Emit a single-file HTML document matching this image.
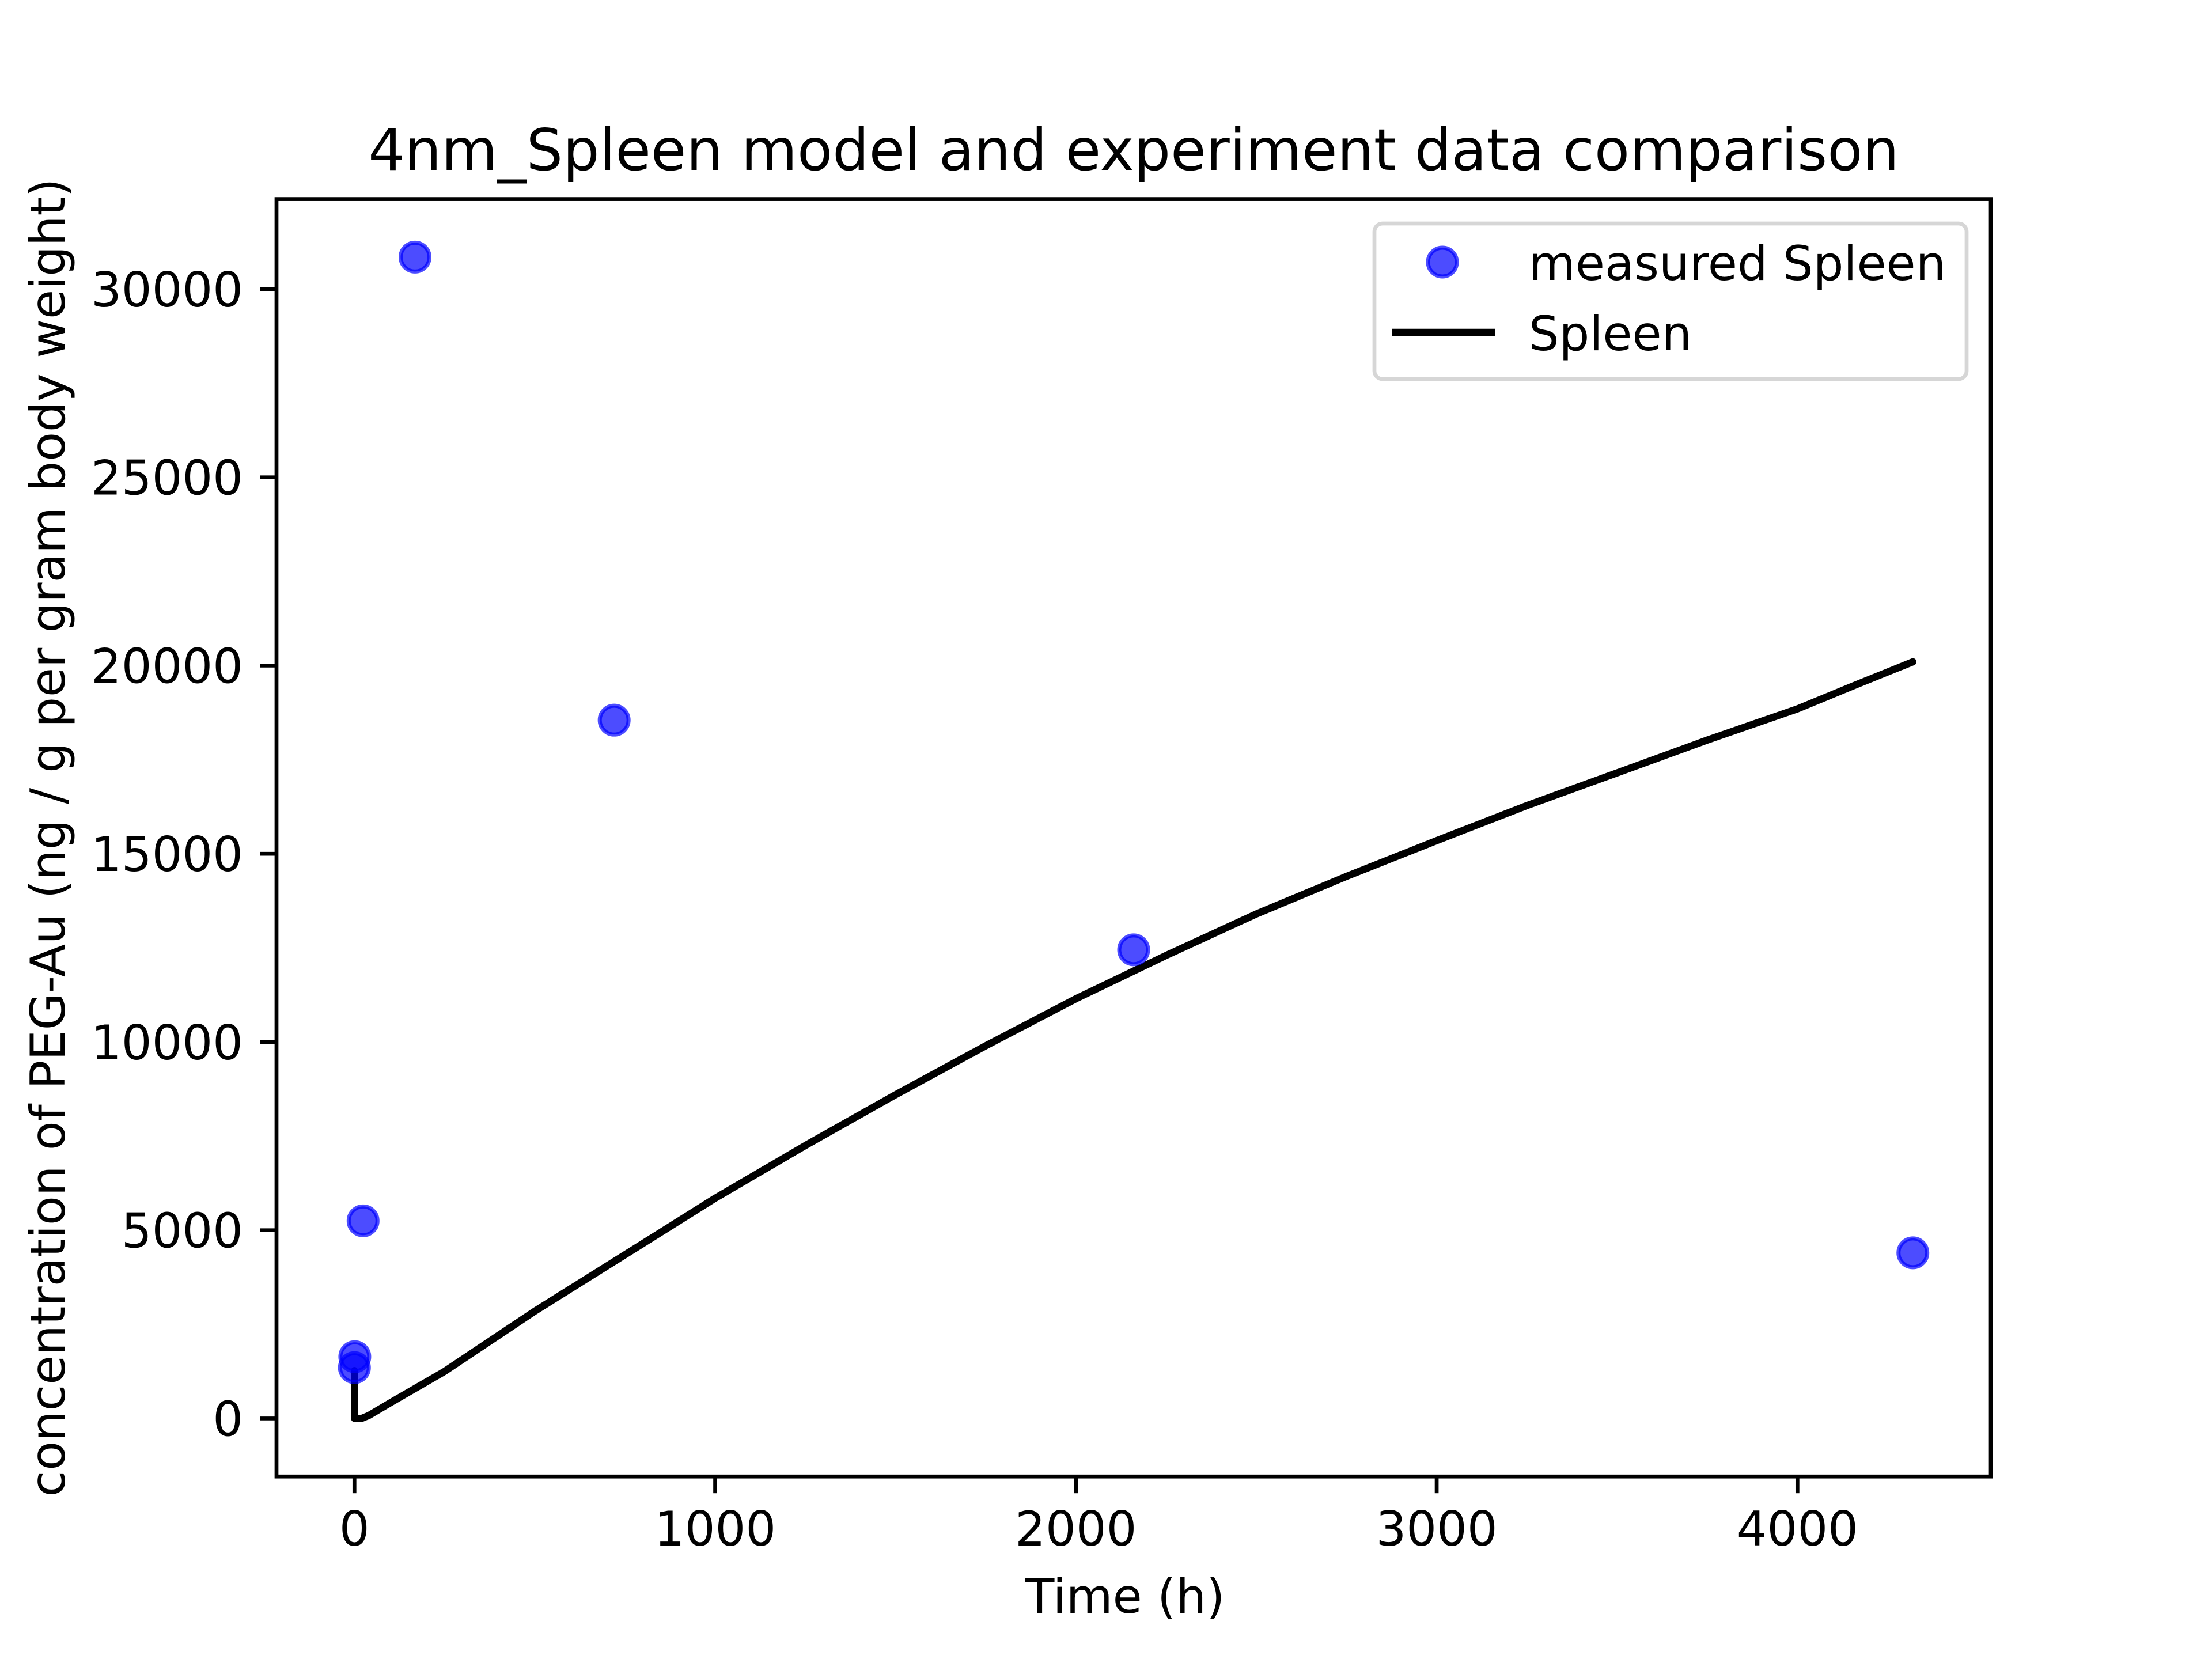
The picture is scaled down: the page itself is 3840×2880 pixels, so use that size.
<!DOCTYPE html>
<html><head><meta charset="utf-8"><style>
html,body{margin:0;padding:0;background:#fff}
svg{display:block;font-family:"DejaVu Sans","Liberation Sans",sans-serif}
</style></head><body>
<svg id="chart" width="3840" height="2880" viewBox="0 0 3840 2880" xmlns="http://www.w3.org/2000/svg">
<rect width="3840" height="2880" fill="#fff"/>
<g id="plot"></g>
<text x="1968" y="295" font-size="100" text-anchor="middle">4nm_Spleen model and experiment data comparison</text>
<text x="1953" y="2800" font-size="83" text-anchor="middle">Time (h)</text>
<text transform="translate(112,1454) rotate(-90)" font-size="83" text-anchor="middle">concentration of PEG-Au (ng / g per gram body weight)</text>
<g>
<rect x="2386" y="388" width="1028" height="270" rx="14" fill="#fff" fill-opacity="0.8" stroke="#d6d6d6" stroke-width="6.7"/>
<circle cx="2504" cy="455" r="25" fill="#0000ff" fill-opacity="0.7" stroke="#0000ff" stroke-opacity="0.7" stroke-width="7"/>
<text x="2654" y="486" font-size="83">measured Spleen</text>
<line x1="2416" y1="577" x2="2596" y2="577" stroke="#000" stroke-width="12.5"/>
<text x="2654" y="608" font-size="83">Spleen</text>
</g>
</svg>
<script>
const measuredTimes = [0, 1, 24, 168, 720, 2160, 4320];
const measuredValues = [1350, 1640, 5250, 30850, 18550, 12450, 4400];
const modelTimes = [0, 0.5, 20, 40, 100, 250, 500, 750, 1000, 1250, 1500, 1750, 2000, 2250, 2500, 2750, 3000, 3250, 3500, 3750, 4000, 4160, 4320];
const modelValues = [1270, 0, 0, 80, 420, 1250, 2850, 4350, 5850, 7250, 8600, 9900, 11150, 12300, 13400, 14400, 15350, 16280, 17150, 18020, 18850, 19480, 20100];
const xTicks = [0, 1000, 2000, 3000, 4000];
const yTicks = [0, 5000, 10000, 15000, 20000, 25000, 30000];

const NS = "http://www.w3.org/2000/svg";
const L = 480, R = 3456, T = 345.6, B = 2563.2;
const xMin = -216, xMax = 4536, yMin = -1542, yMax = 32392;
const sx = v => L + (v - xMin) / (xMax - xMin) * (R - L);
const sy = v => B - (v - yMin) / (yMax - yMin) * (B - T);
const g = document.getElementById('plot');
function mk(tag, attrs) { const e = document.createElementNS(NS, tag); for (const k in attrs) e.setAttribute(k, attrs[k]); g.appendChild(e); return e; }

const d = modelTimes.map((t, i) => (i ? 'L' : 'M') + sx(t).toFixed(1) + ',' + sy(modelValues[i]).toFixed(1)).join(' ');
const line = mk('path', { d: d, fill: 'none', stroke: '#000', 'stroke-width': 12.5, 'stroke-linejoin': 'round', 'stroke-linecap': 'round' });



measuredTimes.forEach((t, i) => {
  const c = mk('circle', { cx: sx(t), cy: sy(measuredValues[i]), r: 25, fill: '#0000ff', 'fill-opacity': 0.7, stroke: '#0000ff', 'stroke-opacity': 0.7, 'stroke-width': 7 });
  
  
});

const frame = mk('rect', { x: L, y: T, width: R - L, height: B - T, fill: 'none', stroke: '#000', 'stroke-width': 6.7 });



xTicks.forEach(v => {
  const x = sx(v);
  const tk = mk('line', { x1: x, y1: B, x2: x, y2: B + 29, stroke: '#000', 'stroke-width': 6.7 });
  
  
  const tx = mk('text', { x: x, y: B + 29 + 29 + 62, 'font-size': 83, 'text-anchor': 'middle' });
  tx.textContent = v;
  
  
});
yTicks.forEach(v => {
  const y = sy(v);
  const tk = mk('line', { x1: L - 29, y1: y, x2: L, y2: y, stroke: '#000', 'stroke-width': 6.7 });
  
  
  const tx = mk('text', { x: L - 58, y: y + 30, 'font-size': 83, 'text-anchor': 'end' });
  tx.textContent = v;
  
  
});
</script>
</body></html>
